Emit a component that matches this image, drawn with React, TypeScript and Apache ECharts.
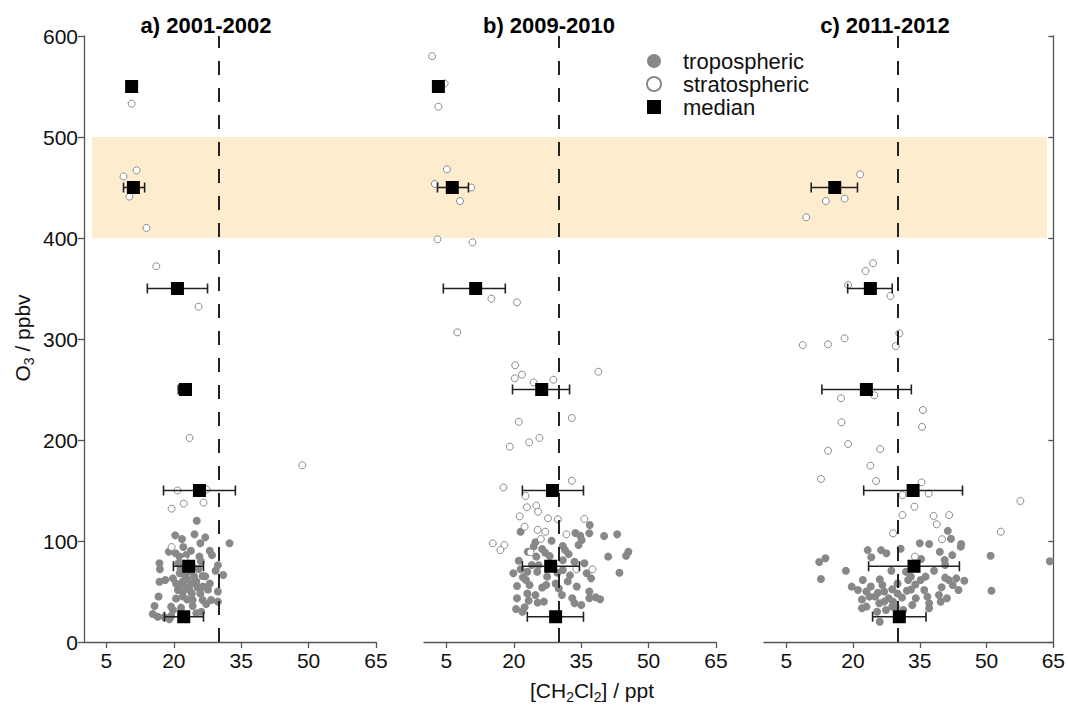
import React, { useEffect, useRef } from "react";
import * as echarts from "echarts";

const FONT = "'Liberation Sans', Arial, Helvetica, sans-serif";

const panelTitles = ["a) 2001-2002", "b) 2009-2010", "c) 2011-2012"];
const xTicks = [5, 20, 35, 50, 65];
const thresholdX = 30;
const bandRange = [400, 500];

// [CH2Cl2, O3]
const tropA = [
  [25.1, 120], [20.3, 105.6], [21.8, 102], [24.6, 106.6], [27, 103.6], [32.4, 97.7], [25.9, 97.7], [22.1, 94],
  [18.9, 89.4], [20.4, 87.8], [23.8, 90.4], [28, 90.4], [28.5, 86], [25.7, 84.5], [21.3, 84.5], [22.7, 86],
  [16.8, 78], [16.9, 72], [29.8, 76], [29.3, 70.6], [31, 66.3], [26.4, 65.3], [19.8, 63], [16.8, 59.7],
  [18.1, 61.4], [21.3, 68], [22, 58], [25.3, 54], [27.6, 52], [29.8, 50], [25.9, 48], [23.5, 51.5],
  [20.9, 51.5], [16.6, 45], [20.5, 43], [24.2, 41.6], [26.4, 41.6], [28.3, 41.6], [29.8, 40], [15.7, 35.6],
  [19.4, 35], [21.6, 34], [24.2, 35.6], [27.2, 37.6], [15.3, 27.7], [16.4, 25], [17.9, 24.5], [19.4, 25.7],
  [19.8, 31.7], [25, 28.4], [26.1, 30], [19, 22.5], [21, 55], [22, 60], [23, 62], [24, 58], [22.5, 66],
  [23.5, 70], [21.5, 72], [24.5, 65], [25, 60], [20.5, 58], [22, 50], [23, 54], [24, 48], [25.5, 72],
  [26, 80], [21, 78], [24, 76], [27, 65], [28, 58], [26.5, 55], [22, 45], [23, 42]
];
const stratA = [
  [10.6, 533], [8.8, 461], [11.7, 467], [10.1, 441], [13.9, 410], [16.1, 372], [25.5, 332], [21.6, 251],
  [23.5, 202], [48.6, 175], [20.8, 150], [27.3, 151], [22.2, 137], [26.6, 138], [19.5, 132], [19.5, 94], [22.4, 81]
];
// [median CH2Cl2, O3 bin, low, high]
const medA = [
  [10.6, 550, 10.6, 10.6], [11.0, 450, 8.8, 13.5], [20.8, 350, 14.1, 27.5], [22.6, 250, 21.0, 23.7],
  [25.7, 150, 17.7, 33.7], [23.3, 75, 19.9, 26.6], [22.2, 25, 17.9, 26.6]
];

const tropB = [
  [36.9, 115.8], [36.8, 107.6], [21.5, 109.2], [33.7, 108], [34.8, 105.2], [40.1, 105], [43, 106.6], [35.1, 101],
  [34.4, 96], [28.4, 100.3], [24.8, 98.7], [24.4, 94.4], [30.9, 95], [31.4, 91], [32.2, 87], [26.3, 92],
  [27, 88.4], [25, 84.5], [28, 85], [23.1, 89.4], [45.5, 89.4], [45, 85.4], [41, 84.5], [21.1, 80.5],
  [24, 76.2], [30.9, 81], [33.5, 79.5], [35.7, 78], [21.5, 72], [19.9, 68], [23, 69.6], [25.2, 69.6],
  [27.4, 64.7], [29.7, 68.6], [30.9, 71.3], [36.2, 68], [37.2, 63], [43.5, 68.6], [20.7, 55.4], [22.7, 61.4],
  [23.5, 56.4], [26.3, 54], [27.2, 56.4], [29.3, 58], [30, 53], [36.8, 50], [23, 48], [24.8, 46.5],
  [20.7, 43.3], [30.7, 46.5], [36.8, 43.3], [38.2, 44.3], [39.2, 42.3], [33, 43.3], [23.3, 41], [25.3, 39],
  [26.7, 40], [33.5, 38.3], [35, 36.6], [20.5, 32.7], [22.4, 34.4], [21.9, 30], [32, 60], [34, 55],
  [25.5, 76], [28.5, 74], [32.5, 66], [22, 64]
];
const stratB = [
  [1.8, 580], [4.6, 553], [3.2, 530], [5.1, 468], [2.4, 453.5], [10.5, 450], [8, 436.6], [3, 398.7],
  [10.8, 395.7], [15, 340], [20.7, 336.3], [7.4, 306.6], [20.3, 274], [21.8, 264.7], [20.2, 261], [24.4, 257],
  [28.8, 259.7], [38.8, 267.6], [32.9, 221.8], [21.1, 218], [25.7, 202], [23.4, 197.7], [19.1, 193.4], [32.9, 159.7],
  [17.7, 153], [22.6, 144.6], [22.9, 133.4], [25, 135], [25.4, 129], [21.3, 124.4], [27.6, 122.5], [29.8, 121.5],
  [35.7, 121.8], [22.4, 114.2], [25.3, 111], [27, 109.2], [31.7, 106.6], [26, 102], [15.3, 97.7], [17.9, 96],
  [17, 91], [23.7, 88.8], [37.5, 72], [33.9, 72]
];
const medB = [
  [3.2, 550, 2.5, 4.0], [6.3, 450, 3.0, 9.9], [11.5, 350, 4.3, 18.1], [26.2, 250, 19.7, 32.4],
  [28.6, 150, 21.9, 35.5], [28.2, 75, 21.9, 34.6], [29.3, 25, 23.0, 35.5]
];

const tropC = [
  [41.3, 110], [42, 102.3], [44.3, 97], [44.2, 94.4], [37.1, 97], [35, 97.7], [30.7, 92.4], [23.3, 91],
  [26.3, 91], [27.5, 87.8], [39.5, 89.4], [42.3, 86], [50.9, 85.4], [64.2, 80], [12.4, 79.2], [13.8, 83],
  [24.1, 83.9], [35.3, 82.2], [40.6, 81.2], [40.7, 76.2], [18.4, 70.6], [28.6, 70.6], [31.9, 69.6], [33, 64.7],
  [38.2, 70.6], [12.8, 62.4], [22.2, 61.4], [26.6, 56.4], [32.4, 61.4], [35.2, 61.4], [36.3, 64.7], [40.7, 63.7],
  [41.5, 61.4], [43.2, 63], [45, 60.7], [42.4, 56.4], [43.7, 51.5], [39.9, 54.2], [19.7, 54.8], [21.1, 51.5],
  [51.1, 50.8], [23, 50], [25.6, 48.8], [28.8, 52.2], [32.1, 50.8], [36, 51.5], [23.7, 44.9], [28, 43.3],
  [34.1, 43.3], [36.7, 44.9], [39.3, 46.5], [39.7, 39.9], [41.1, 43.3], [25.9, 38.3], [28.8, 35], [29.6, 35],
  [33.3, 36.6], [37.1, 33.4], [22, 33.4], [23, 35], [25.4, 30], [27.4, 31.7], [26, 20.1], [31.3, 31.7],
  [37.1, 38.3], [30, 48], [27, 50], [24, 55], [26, 62], [31, 44], [34, 57], [22, 42], [27, 40], [30, 58],
  [33, 52], [25, 45], [29, 40]
];
const stratC = [
  [21.6, 463], [13.9, 436.6], [18.1, 439], [9.5, 420.5], [24.5, 375], [22.8, 367.3], [18.9, 353.5], [28.4, 342.6],
  [30.4, 305.6], [29.6, 293], [8.7, 294], [14.4, 294.7], [18.1, 300.7], [24.8, 244.2], [17.3, 241.3], [35.7, 229.7],
  [17.4, 217.5], [35.5, 213], [18.9, 196], [14.4, 189.4], [26.1, 191], [23.9, 174.6], [12.8, 161.4], [25.2, 159.4],
  [35.4, 158], [31.1, 145.5], [37, 147], [57.6, 139.6], [33.8, 134], [31.1, 125.7], [38.1, 124.8], [41.6, 125.7],
  [38.8, 116.5], [29, 107.6], [40, 101.7], [53.2, 109.2], [33.9, 84.5]
];
const medC = [
  [15.9, 450, 10.6, 21.0], [23.9, 350, 18.8, 28.8], [23.0, 250, 13.0, 33.1],
  [33.5, 150, 22.4, 44.6], [33.7, 75, 23.5, 43.9], [30.4, 25, 24.4, 36.4]
];

const tropData = [tropA, tropB, tropC];
const stratData = [stratA, stratB, stratC];
const medData = [medA, medB, medC];

export default function App() {
  const ref = useRef<HTMLDivElement>(null);

  useEffect(() => {
    if (!ref.current) return;
    const chart = echarts.init(ref.current, null, { renderer: "svg" });

    const panelLefts = [84, 424, 764];
    const axisColor = "#555";
    const labelColor = "#111";

    const grids: any[] = panelLefts.map((l) => ({ left: l, top: 36, width: 292, height: 606, containLabel: false }));
    grids.push({ left: 92, top: 36, width: 955, height: 606 });

    const xAxes: any[] = [0, 1, 2].map((i) => ({
      gridIndex: i,
      type: "value",
      min: 0,
      max: 65,
      axisLine: { show: true, onZero: false, lineStyle: { color: axisColor, width: 1.3 } },
      axisTick: { show: true, length: 6, customValues: xTicks, lineStyle: { color: axisColor, width: 1.3 } },
      axisLabel: { customValues: xTicks, fontSize: 21, color: labelColor, margin: 8, fontFamily: FONT },
      splitLine: { show: false },
    }));
    xAxes.push({ gridIndex: 3, type: "value", min: 0, max: 1, show: false });

    const yAxes: any[] = [
      {
        gridIndex: 0, type: "value", min: 0, max: 600, interval: 100, position: "left",
        axisLine: { show: true, onZero: false, lineStyle: { color: axisColor, width: 1.3 } },
        axisTick: { show: true, length: 6, lineStyle: { color: axisColor, width: 1.3 } },
        axisLabel: { fontSize: 21, color: labelColor, margin: 6, fontFamily: FONT },
        splitLine: { show: false },
      },
      { gridIndex: 1, type: "value", min: 0, max: 600, interval: 100, show: false },
      {
        gridIndex: 2, type: "value", min: 0, max: 600, interval: 100, position: "right",
        axisLine: { show: true, onZero: false, lineStyle: { color: axisColor, width: 1.3 } },
        axisTick: { show: true, inside: true, length: 5, lineStyle: { color: axisColor, width: 1.3 } },
        axisLabel: { show: false },
        splitLine: { show: false },
      },
      { gridIndex: 3, type: "value", min: 0, max: 600, show: false },
    ];

    const series: any[] = [
      {
        type: "scatter",
        xAxisIndex: 3,
        yAxisIndex: 3,
        data: [[0.5, -100]],
        symbolSize: 0,
        silent: true,
        z: 0,
        markArea: {
          silent: true,
          itemStyle: { color: "#feecce", opacity: 1 },
          data: [[{ yAxis: bandRange[0] }, { yAxis: bandRange[1] }]],
        },
      },
    ];

    [0, 1, 2].forEach((i) => {
      series.push({
        name: "tropospheric",
        type: "scatter",
        xAxisIndex: i,
        yAxisIndex: i,
        data: tropData[i],
        symbol: "circle",
        symbolSize: 8,
        itemStyle: { color: "#888888", opacity: 1 },
        z: 2,
        markLine: {
          silent: true,
          symbol: "none",
          label: { show: false },
          lineStyle: { color: "#222", width: 2, type: [14, 13] },
          data: [{ xAxis: thresholdX }],
        },
      });
      series.push({
        name: "stratospheric",
        type: "scatter",
        xAxisIndex: i,
        yAxisIndex: i,
        data: stratData[i],
        symbol: "circle",
        symbolSize: 7,
        itemStyle: { color: "#ffffff", borderColor: "#8a8a8a", borderWidth: 1, opacity: 1 },
        z: 3,
      });
      series.push({
        type: "custom",
        xAxisIndex: i,
        yAxisIndex: i,
        data: medData[i],
        encode: { x: [0, 2, 3], y: 1 },
        silent: true,
        z: 4,
        renderItem: (params: any, api: any) => {
          const y = api.value(1);
          const lo = api.coord([api.value(2), y]);
          const hi = api.coord([api.value(3), y]);
          const st = { stroke: "#222", lineWidth: 1.6 };
          const cap = 5;
          return {
            type: "group",
            children: [
              { type: "line", shape: { x1: lo[0], y1: lo[1], x2: hi[0], y2: hi[1] }, style: st },
              { type: "line", shape: { x1: lo[0], y1: lo[1] - cap, x2: lo[0], y2: lo[1] + cap }, style: st },
              { type: "line", shape: { x1: hi[0], y1: hi[1] - cap, x2: hi[0], y2: hi[1] + cap }, style: st },
            ],
          };
        },
      });
      series.push({
        name: "median",
        type: "scatter",
        xAxisIndex: i,
        yAxisIndex: i,
        data: medData[i].map((d) => [d[0], d[1]]),
        symbol: "rect",
        symbolSize: 13,
        itemStyle: { color: "#000000", opacity: 1 },
        z: 5,
      });
    });

    const titleCenters = [206, 549, 885];
    const graphic: any[] = panelTitles.map((t, i) => ({
      type: "text",
      x: titleCenters[i],
      y: 25,
      style: {
        text: t,
        font: `bold 22px ${FONT}`,
        fill: "#000",
        textAlign: "center",
        textVerticalAlign: "middle",
      },
    }));
    graphic.push({
      type: "text",
      x: 22,
      y: 338,
      rotation: Math.PI / 2,
      style: {
        text: "O{sub|3} / ppbv",
        font: `21px ${FONT}`,
        fill: "#111",
        textAlign: "center",
        textVerticalAlign: "middle",
        lineHeight: 28,
        rich: { sub: { fontSize: 14, fontFamily: FONT, verticalAlign: "bottom", lineHeight: 28, fill: "#111" } },
      },
    });
    graphic.push({
      type: "text",
      x: 592,
      y: 690,
      style: {
        text: "[CH{sub|2}Cl{sub|2}] / ppt",
        font: `21px ${FONT}`,
        fill: "#111",
        textAlign: "center",
        textVerticalAlign: "middle",
        lineHeight: 28,
        rich: { sub: { fontSize: 14, fontFamily: FONT, verticalAlign: "bottom", lineHeight: 28, fill: "#111" } },
      },
    });

    chart.setOption({
      animation: false,
      backgroundColor: "#ffffff",
      textStyle: { fontFamily: FONT },
      grid: grids,
      xAxis: xAxes,
      yAxis: yAxes,
      legend: {
        data: ["tropospheric", "stratospheric", "median"],
        orient: "vertical",
        left: 641,
        top: 45,
        itemWidth: 14,
        itemHeight: 14,
        itemGap: 1,
        selectedMode: false,
        textStyle: { fontSize: 22, color: "#111", fontFamily: FONT, lineHeight: 22, padding: [0, 0, 0, 17] },
      },
      series,
      graphic,
    });

    return () => chart.dispose();
  }, []);

  return (
    <div
      ref={ref}
      style={{ position: "fixed", left: 0, top: 0, width: 1068, height: 705, background: "#fff" }}
    />
  );
}
